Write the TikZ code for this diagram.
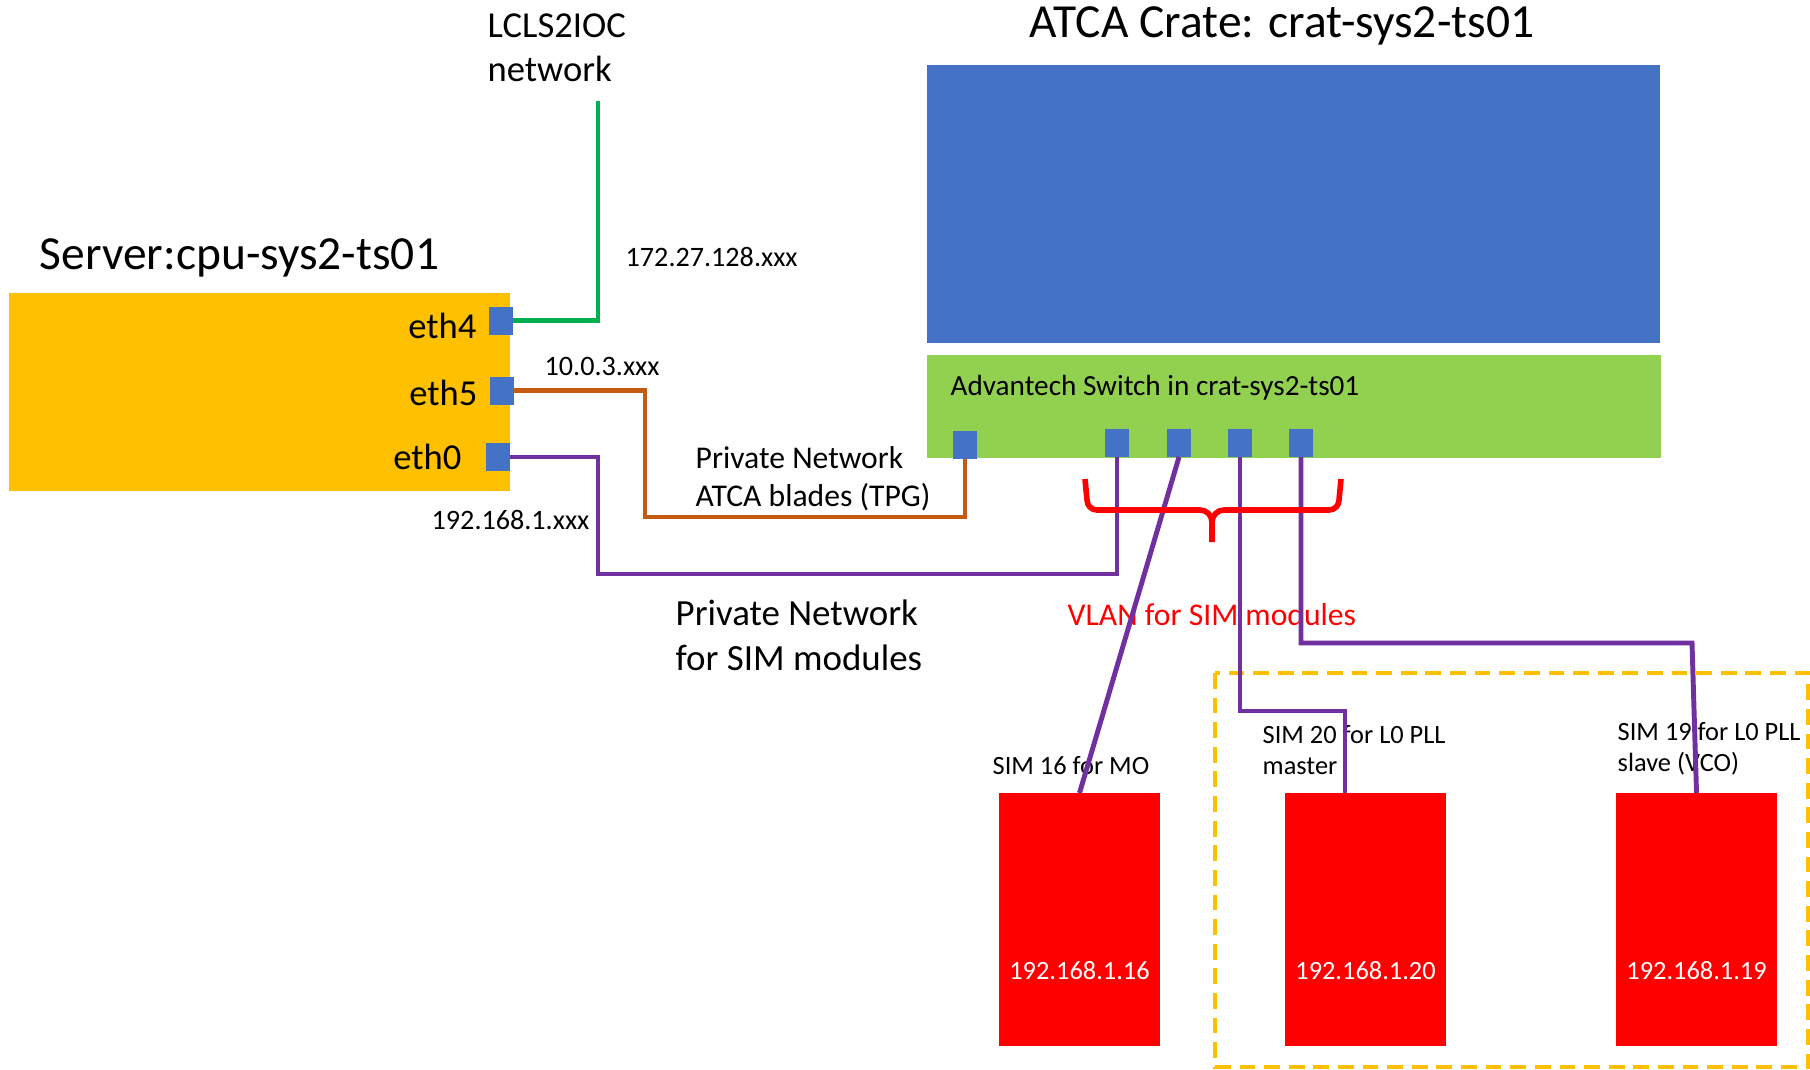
\documentclass[tikz,border=0pt]{standalone}
\usepackage{fontspec}
\setmainfont{Carlito}
\usepackage{tikz}
\usetikzlibrary{%
  positioning,% wg. " of "
  calc%
}

\definecolor{serverorange}{HTML}{FFC000}
\definecolor{portblue}{HTML}{4472C4}
\definecolor{switchgreen}{HTML}{92D050}
\definecolor{iocgreen}{HTML}{00B050}
\definecolor{tpgorange}{HTML}{C55A11}
\definecolor{simpurple}{HTML}{7030A0}
\definecolor{simred}{HTML}{FF0000}

\newcommand\fsbig{\fontsize{13.5pt}{16pt}\selectfont}
\newcommand\fseth{\fontsize{10.4pt}{12.6pt}\selectfont}
\newcommand\fssimnet{\fontsize{10.5pt}{12.8pt}\selectfont}
\newcommand\fsmid{\fontsize{9pt}{10.8pt}\selectfont}
\newcommand\fsswitch{\fontsize{8.3pt}{10pt}\selectfont}
\newcommand\fsip{\fontsize{8pt}{9.6pt}\selectfont}
\newcommand\fssim{\fontsize{7.5pt}{8.8pt}\selectfont}

\tikzset{
  blk/.style={inner sep=0pt, outer sep=0pt},
  portsq/.style={blk, fill=portblue, minimum width=0.24cm, minimum height=0.28cm},
  simbox/.style={blk, fill=simred, minimum width=1.61cm, minimum height=2.53cm},
  cable/.style={line width=1.4pt},
  lbl/.style={inner sep=0pt, align=left},
}

\begin{document}
\begin{tikzpicture}[x=0.01cm, y=-0.01cm]
\useasboundingbox (0,0) rectangle (1810,1069);

% server
\node[blk, fill=serverorange, minimum width=5.01cm, minimum height=1.98cm] (server) at (259.5,392) {};
\node[lbl, font=\fsbig, anchor=base west] (servertitle) at (39,269) {Server:cpu-sys2-ts01};
\node[portsq] (eth4) at (501,320.5) {};
\node[portsq] (eth5) at (502,390.5) {};
\node[portsq] (eth0) at (498,457) {};
\node[lbl, font=\fseth, anchor=base east] (eth4lbl) at (477,338) {eth4};
\node[lbl, font=\fseth, anchor=base east] (eth5lbl) at (478,405) {eth5};
\node[lbl, font=\fseth, anchor=base east] (eth0lbl) at (462,469) {eth0};

% ATCA crate + switch
\node[lbl, font=\fsbig, anchor=base] (cratetitle) at (1282,37) {ATCA Crate: crat-sys2-ts01};
\node[blk, fill=portblue, minimum width=7.33cm, minimum height=2.78cm] (crate) at (1293.5,204) {};
\node[blk, fill=switchgreen, minimum width=7.34cm, minimum height=1.03cm] (switch) at (1294,406.5) {};
\node[lbl, font=\fsswitch, anchor=base west] (switchlbl) at (950,395) {Advantech Switch in crat-sys2-ts01};
\node[portsq] (sp1) at (965,445) {};
\node[portsq] (sp2) at (1117,443) {};
\node[portsq] (sp3) at (1179,443) {};
\node[portsq] (sp4) at (1240,443) {};
\node[portsq] (sp5) at (1301,443) {};

% SIM modules
\draw[serverorange, line width=0.9pt, dash pattern=on 4.5pt off 2.5pt] (1215,673) rectangle (1808,1067);
\node[simbox] (sim16) at (1079.5,919.5) {};
\node[simbox] (sim20) at (1365.5,919.5) {};
\node[simbox] (sim19) at (1696.5,919.5) {};
\node[lbl, font=\fssim, anchor=base, white] (ip16) at (1079.5,979) {192.168.1.16};
\node[lbl, font=\fssim, anchor=base, white] (ip20) at (1365.5,979) {192.168.1.20};
\node[lbl, font=\fssim, anchor=base, white] (ip19) at (1696.5,979) {192.168.1.19};
\node[lbl, font=\fssim, anchor=base west] (sim16lbl) at (992,774) {SIM 16 for MO};
\node[lbl, font=\fssim, anchor=north west] (sim20lbl) at (1262,725) {SIM 20 for L0 PLL\\ master};
\node[lbl, font=\fssim, anchor=north west] (sim19lbl) at (1617,722) {SIM 19 for L0 PLL\\ slave (VCO)};

% network labels
\node[lbl, font=\fseth, anchor=north west] (ioclbl) at (487,13) {LCLS2IOC\\ network};
\node[lbl, font=\fsip, anchor=base west] (iocip) at (625,266) {172.27.128.xxx};
\node[lbl, font=\fsip, anchor=base west] (tpgip) at (544,375) {10.0.3.xxx};
\node[lbl, font=\fsip, anchor=base west] (simip) at (431,529) {192.168.1.xxx};
\node[lbl, font=\fsmid, anchor=north west] (tpglbl) at (695,446) {Private Network\\ ATCA blades (TPG)};
\node[lbl, font=\fssimnet, anchor=north west] (simnetlbl) at (675,599) {Private Network\\ for SIM modules};
\node[lbl, font=\fsmid, anchor=base west, simred] (vlanlbl) at (1067,625) {VLAN for SIM modules};

% cables
\coordinate (iocend) at (598,101);
\coordinate (tpgbend) at (645,517);
\coordinate (simbend) at (598,574);
\coordinate (b20) at (1345,711);
\coordinate (b19) at (1692,643);
\draw[cable, iocgreen] (eth4.east) -| (iocend);
\draw[cable, tpgorange] (eth5.east) -| (tpgbend) -| (sp1.south);
\draw[cable, simpurple] (eth0.east) -| (simbend) -| (sp2.south);
\draw[cable, simpurple] (sp3.south) -- (sim16.north);
\draw[cable, simpurple] (sp4.south) |- (b20) -- (b20 |- sim20.north);
\draw[cable, simpurple] (sp5.south) |- (b19) -- (sim19.north);

% VLAN bracket
\coordinate (brl) at (1085,479);
\coordinate (brr) at (1341,479);
\coordinate (brtip) at (1212,542);
\draw[simred, line width=1.6pt, line join=round]
  (brl) -- (1087,500) to[out=-90,in=180] (1097,510) -- (1200,510)
  to[out=0,in=90] (brtip |- 0,522) -- (brtip);
\draw[simred, line width=1.6pt, line join=round]
  (brr) -- (1339,500) to[out=-90,in=0] (1329,510) -- (1224,510)
  to[out=180,in=90] (brtip |- 0,522);
\end{tikzpicture}
\end{document}
